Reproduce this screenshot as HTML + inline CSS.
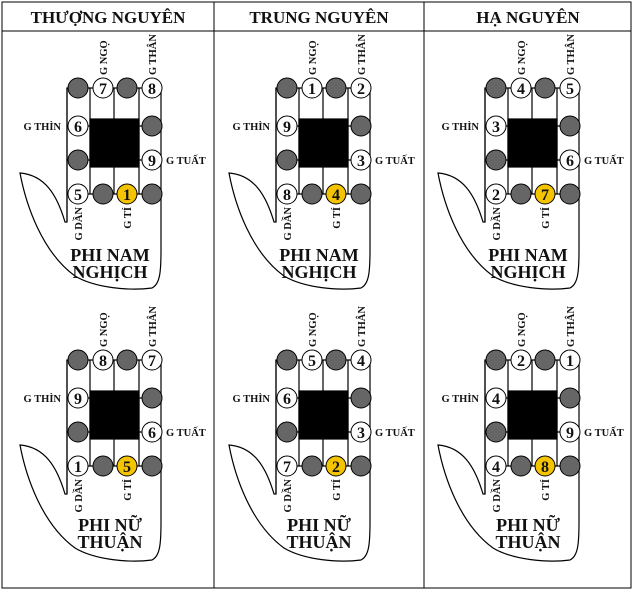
<!DOCTYPE html>
<html><head><meta charset="utf-8"><style>
html,body{margin:0;padding:0;background:#fff}
svg{display:block}
text{font-family:"Liberation Serif",serif;font-weight:bold;fill:#111}
.n{font-size:16px;text-anchor:middle}
.s{font-size:10.5px}
.t{font-size:18px;text-anchor:middle}
.h{font-size:17px;text-anchor:middle}
</style></head><body>
<svg width="633" height="590" viewBox="0 0 633 590" xmlns="http://www.w3.org/2000/svg">
<defs>
<g id="hand" fill="none" stroke="#000" stroke-width="1.2">
<path d="M67,88 L161,88 L161,250 C161,272 160,284 152,288 C130,291 95,288 75,276 C42,252 26,205 20,173 C45,175 57,195 65,222 L67,222 Z" fill="#fff"/>
<path d="M67,88 L67,222 M90,88 L90,194 M114,88 L114,194 M139,88 L139,194 M67,126 L161,126 M67,160 L161,160 M67,194 L161,194"/>
<rect x="90" y="119" width="49" height="48" fill="#000"/>
</g>
<g id="grayc" stroke="#000" stroke-width="1" fill="#666">
<circle cx="78" cy="88" r="10"/><circle cx="127" cy="88" r="10"/>
<circle cx="152" cy="126" r="10"/><circle cx="78" cy="160" r="10"/>
<circle cx="103" cy="194" r="10"/><circle cx="152" cy="194" r="10"/>
</g>
<g id="wc" stroke="#000" stroke-width="1" fill="#fff">
<circle cx="103" cy="88" r="10"/><circle cx="152" cy="88" r="10"/>
<circle cx="78" cy="126" r="10"/><circle cx="152" cy="160" r="10"/>
<circle cx="78" cy="194" r="10"/><circle cx="127" cy="194" r="10" fill="#f5c400"/>
</g>
</defs>
<rect x="2" y="2" width="629" height="586" fill="none" stroke="#000"/>
<line x1="2" y1="31" x2="631" y2="31" stroke="#000"/>
<line x1="214" y1="2" x2="214" y2="588" stroke="#000"/>
<line x1="424" y1="2" x2="424" y2="588" stroke="#000"/>
<text class="h" x="108" y="23">THƯỢNG NGUYÊN</text>
<text class="h" x="319" y="23">TRUNG NGUYÊN</text>
<text class="h" x="528" y="23">HẠ NGUYÊN</text>

<g transform="translate(0,0)">
<use href="#hand"/><use href="#grayc"/><use href="#wc"/>
<text class="n" x="103" y="94">7</text><text class="n" x="152" y="94">8</text>
<text class="n" x="78" y="132">6</text><text class="n" x="152" y="166">9</text>
<text class="n" x="78" y="200">5</text><text class="n" x="127" y="200">1</text>
<text class="s" transform="translate(107,75) rotate(-90)">G NGỌ</text>
<text class="s" transform="translate(156,75) rotate(-90)">G THÂN</text>
<text class="s" x="61" y="130" text-anchor="end">G THÌN</text>
<text class="s" x="166" y="164">G TUẤT</text>
<text class="s" text-anchor="end" transform="translate(82,207) rotate(-90)">G DẦN</text>
<text class="s" text-anchor="end" transform="translate(131,207) rotate(-90)">G TÍ</text>
<text class="t" x="110" y="261">PHI NAM</text><text class="t" x="110" y="278">NGHỊCH</text>
</g>
<g transform="translate(209,0)">
<use href="#hand"/><use href="#grayc"/><use href="#wc"/>
<text class="n" x="103" y="94">1</text><text class="n" x="152" y="94">2</text>
<text class="n" x="78" y="132">9</text><text class="n" x="152" y="166">3</text>
<text class="n" x="78" y="200">8</text><text class="n" x="127" y="200">4</text>
<text class="s" transform="translate(107,75) rotate(-90)">G NGỌ</text>
<text class="s" transform="translate(156,75) rotate(-90)">G THÂN</text>
<text class="s" x="61" y="130" text-anchor="end">G THÌN</text>
<text class="s" x="166" y="164">G TUẤT</text>
<text class="s" text-anchor="end" transform="translate(82,207) rotate(-90)">G DẦN</text>
<text class="s" text-anchor="end" transform="translate(131,207) rotate(-90)">G TÍ</text>
<text class="t" x="110" y="261">PHI NAM</text><text class="t" x="110" y="278">NGHỊCH</text>
</g>
<g transform="translate(418,0)">
<use href="#hand"/><use href="#grayc"/><use href="#wc"/>
<text class="n" x="103" y="94">4</text><text class="n" x="152" y="94">5</text>
<text class="n" x="78" y="132">3</text><text class="n" x="152" y="166">6</text>
<text class="n" x="78" y="200">2</text><text class="n" x="127" y="200">7</text>
<text class="s" transform="translate(107,75) rotate(-90)">G NGỌ</text>
<text class="s" transform="translate(156,75) rotate(-90)">G THÂN</text>
<text class="s" x="61" y="130" text-anchor="end">G THÌN</text>
<text class="s" x="166" y="164">G TUẤT</text>
<text class="s" text-anchor="end" transform="translate(82,207) rotate(-90)">G DẦN</text>
<text class="s" text-anchor="end" transform="translate(131,207) rotate(-90)">G TÍ</text>
<text class="t" x="110" y="261">PHI NAM</text><text class="t" x="110" y="278">NGHỊCH</text>
</g>

<g transform="translate(0,272)">
<use href="#hand"/><use href="#grayc"/><use href="#wc"/>
<text class="n" x="103" y="94">8</text><text class="n" x="152" y="94">7</text>
<text class="n" x="78" y="132">9</text><text class="n" x="152" y="166">6</text>
<text class="n" x="78" y="200">1</text><text class="n" x="127" y="200">5</text>
<text class="s" transform="translate(107,75) rotate(-90)">G NGỌ</text>
<text class="s" transform="translate(156,75) rotate(-90)">G THÂN</text>
<text class="s" x="61" y="130" text-anchor="end">G THÌN</text>
<text class="s" x="166" y="164">G TUẤT</text>
<text class="s" text-anchor="end" transform="translate(82,207) rotate(-90)">G DẦN</text>
<text class="s" text-anchor="end" transform="translate(131,207) rotate(-90)">G TÍ</text>
<text class="t" x="110" y="259">PHI NỮ</text><text class="t" x="110" y="276">THUẬN</text>
</g>
<g transform="translate(209,272)">
<use href="#hand"/><use href="#grayc"/><use href="#wc"/>
<text class="n" x="103" y="94">5</text><text class="n" x="152" y="94">4</text>
<text class="n" x="78" y="132">6</text><text class="n" x="152" y="166">3</text>
<text class="n" x="78" y="200">7</text><text class="n" x="127" y="200">2</text>
<text class="s" transform="translate(107,75) rotate(-90)">G NGỌ</text>
<text class="s" transform="translate(156,75) rotate(-90)">G THÂN</text>
<text class="s" x="61" y="130" text-anchor="end">G THÌN</text>
<text class="s" x="166" y="164">G TUẤT</text>
<text class="s" text-anchor="end" transform="translate(82,207) rotate(-90)">G DẦN</text>
<text class="s" text-anchor="end" transform="translate(131,207) rotate(-90)">G TÍ</text>
<text class="t" x="110" y="259">PHI NỮ</text><text class="t" x="110" y="276">THUẬN</text>
</g>
<g transform="translate(418,272)">
<use href="#hand"/><use href="#grayc"/><use href="#wc"/>
<text class="n" x="103" y="94">2</text><text class="n" x="152" y="94">1</text>
<text class="n" x="78" y="132">4</text><text class="n" x="152" y="166">9</text>
<text class="n" x="78" y="200">4</text><text class="n" x="127" y="200">8</text>
<text class="s" transform="translate(107,75) rotate(-90)">G NGỌ</text>
<text class="s" transform="translate(156,75) rotate(-90)">G THÂN</text>
<text class="s" x="61" y="130" text-anchor="end">G THÌN</text>
<text class="s" x="166" y="164">G TUẤT</text>
<text class="s" text-anchor="end" transform="translate(82,207) rotate(-90)">G DẦN</text>
<text class="s" text-anchor="end" transform="translate(131,207) rotate(-90)">G TÍ</text>
<text class="t" x="110" y="259">PHI NỮ</text><text class="t" x="110" y="276">THUẬN</text>
</g>
</svg>
</body></html>
